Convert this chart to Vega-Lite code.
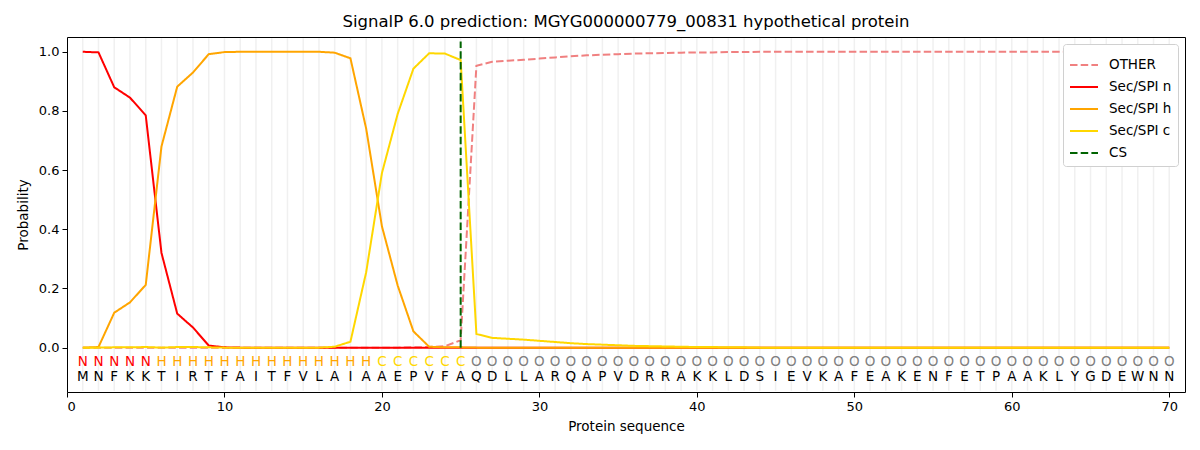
{
  "$schema": "https://vega.github.io/schema/vega-lite/v6.json",
  "autosize": "none",
  "width": 1118,
  "height": 355,
  "padding": {"left": 67, "top": 37, "right": 15, "bottom": 58},
  "background": "white",
  "title": {
    "text": "SignalP 6.0 prediction: MGYG000000779_00831 hypothetical protein",
    "font": "DejaVu Sans",
    "fontSize": 16.5,
    "fontWeight": "normal",
    "color": "black",
    "offset": 7
  },
  "datasets": {
    "seq": [
      {"pos": 1, "aa": "M", "label": "N", "other": 0.0, "n": 1.0, "h": 0.0, "c": 0.0},
      {"pos": 2, "aa": "N", "label": "N", "other": 0.0, "n": 0.998, "h": 0.002, "c": 0.0},
      {"pos": 3, "aa": "F", "label": "N", "other": 0.0, "n": 0.88, "h": 0.118, "c": 0.001},
      {"pos": 4, "aa": "K", "label": "N", "other": 0.0, "n": 0.845, "h": 0.153, "c": 0.001},
      {"pos": 5, "aa": "K", "label": "N", "other": 0.0, "n": 0.785, "h": 0.212, "c": 0.002},
      {"pos": 6, "aa": "T", "label": "H", "other": 0.0, "n": 0.32, "h": 0.68, "c": 0.0},
      {"pos": 7, "aa": "I", "label": "H", "other": 0.0, "n": 0.115, "h": 0.882, "c": 0.002},
      {"pos": 8, "aa": "R", "label": "H", "other": 0.0, "n": 0.068, "h": 0.93, "c": 0.002},
      {"pos": 9, "aa": "T", "label": "H", "other": 0.0, "n": 0.007, "h": 0.992, "c": 0.001},
      {"pos": 10, "aa": "F", "label": "H", "other": 0.0, "n": 0.001, "h": 0.999, "c": 0.0},
      {"pos": 11, "aa": "A", "label": "H", "other": 0.0, "n": 0.0, "h": 1.0, "c": 0.0},
      {"pos": 12, "aa": "I", "label": "H", "other": 0.0, "n": 0.0, "h": 1.0, "c": 0.0},
      {"pos": 13, "aa": "T", "label": "H", "other": 0.0, "n": 0.0, "h": 1.0, "c": 0.0},
      {"pos": 14, "aa": "F", "label": "H", "other": 0.0, "n": 0.0, "h": 1.0, "c": 0.0},
      {"pos": 15, "aa": "V", "label": "H", "other": 0.0, "n": 0.0, "h": 1.0, "c": 0.0},
      {"pos": 16, "aa": "L", "label": "H", "other": 0.0, "n": 0.0, "h": 1.0, "c": 0.0},
      {"pos": 17, "aa": "A", "label": "H", "other": 0.0, "n": 0.0, "h": 0.997, "c": 0.003},
      {"pos": 18, "aa": "I", "label": "H", "other": 0.0, "n": 0.0, "h": 0.978, "c": 0.02},
      {"pos": 19, "aa": "A", "label": "H", "other": 0.0, "n": 0.0, "h": 0.74, "c": 0.255},
      {"pos": 20, "aa": "A", "label": "C", "other": 0.0, "n": 0.0, "h": 0.41, "c": 0.59},
      {"pos": 21, "aa": "E", "label": "C", "other": 0.0, "n": 0.0, "h": 0.21, "c": 0.79},
      {"pos": 22, "aa": "P", "label": "C", "other": 0.001, "n": 0.0, "h": 0.055, "c": 0.943},
      {"pos": 23, "aa": "V", "label": "C", "other": 0.002, "n": 0.0, "h": 0.003, "c": 0.995},
      {"pos": 24, "aa": "F", "label": "C", "other": 0.005, "n": 0.0, "h": 0.001, "c": 0.994},
      {"pos": 25, "aa": "A", "label": "C", "other": 0.025, "n": 0.0, "h": 0.001, "c": 0.972},
      {"pos": 26, "aa": "Q", "label": "O", "other": 0.953, "n": 0.0, "h": 0.0, "c": 0.046},
      {"pos": 27, "aa": "D", "label": "O", "other": 0.966, "n": 0.0, "h": 0.0, "c": 0.033},
      {"pos": 28, "aa": "L", "label": "O", "other": 0.97, "n": 0.0, "h": 0.0, "c": 0.03},
      {"pos": 29, "aa": "L", "label": "O", "other": 0.973, "n": 0.0, "h": 0.0, "c": 0.027},
      {"pos": 30, "aa": "A", "label": "O", "other": 0.977, "n": 0.0, "h": 0.0, "c": 0.023},
      {"pos": 31, "aa": "R", "label": "O", "other": 0.981, "n": 0.0, "h": 0.0, "c": 0.019},
      {"pos": 32, "aa": "Q", "label": "O", "other": 0.985, "n": 0.0, "h": 0.0, "c": 0.015},
      {"pos": 33, "aa": "A", "label": "O", "other": 0.988, "n": 0.0, "h": 0.0, "c": 0.012},
      {"pos": 34, "aa": "P", "label": "O", "other": 0.99, "n": 0.0, "h": 0.0, "c": 0.01},
      {"pos": 35, "aa": "V", "label": "O", "other": 0.992, "n": 0.0, "h": 0.0, "c": 0.008},
      {"pos": 36, "aa": "D", "label": "O", "other": 0.994, "n": 0.0, "h": 0.0, "c": 0.006},
      {"pos": 37, "aa": "R", "label": "O", "other": 0.995, "n": 0.0, "h": 0.0, "c": 0.005},
      {"pos": 38, "aa": "R", "label": "O", "other": 0.996, "n": 0.0, "h": 0.0, "c": 0.004},
      {"pos": 39, "aa": "A", "label": "O", "other": 0.997, "n": 0.0, "h": 0.0, "c": 0.003},
      {"pos": 40, "aa": "K", "label": "O", "other": 0.998, "n": 0.0, "h": 0.0, "c": 0.002},
      {"pos": 41, "aa": "K", "label": "O", "other": 0.998, "n": 0.0, "h": 0.0, "c": 0.002},
      {"pos": 42, "aa": "L", "label": "O", "other": 0.999, "n": 0.0, "h": 0.0, "c": 0.001},
      {"pos": 43, "aa": "D", "label": "O", "other": 0.999, "n": 0.0, "h": 0.0, "c": 0.001},
      {"pos": 44, "aa": "S", "label": "O", "other": 1.0, "n": 0.0, "h": 0.0, "c": 0.0},
      {"pos": 45, "aa": "I", "label": "O", "other": 1.0, "n": 0.0, "h": 0.0, "c": 0.0},
      {"pos": 46, "aa": "E", "label": "O", "other": 1.0, "n": 0.0, "h": 0.0, "c": 0.0},
      {"pos": 47, "aa": "V", "label": "O", "other": 1.0, "n": 0.0, "h": 0.0, "c": 0.0},
      {"pos": 48, "aa": "K", "label": "O", "other": 1.0, "n": 0.0, "h": 0.0, "c": 0.0},
      {"pos": 49, "aa": "A", "label": "O", "other": 1.0, "n": 0.0, "h": 0.0, "c": 0.0},
      {"pos": 50, "aa": "F", "label": "O", "other": 1.0, "n": 0.0, "h": 0.0, "c": 0.0},
      {"pos": 51, "aa": "E", "label": "O", "other": 1.0, "n": 0.0, "h": 0.0, "c": 0.0},
      {"pos": 52, "aa": "A", "label": "O", "other": 1.0, "n": 0.0, "h": 0.0, "c": 0.0},
      {"pos": 53, "aa": "K", "label": "O", "other": 1.0, "n": 0.0, "h": 0.0, "c": 0.0},
      {"pos": 54, "aa": "E", "label": "O", "other": 1.0, "n": 0.0, "h": 0.0, "c": 0.0},
      {"pos": 55, "aa": "N", "label": "O", "other": 1.0, "n": 0.0, "h": 0.0, "c": 0.0},
      {"pos": 56, "aa": "F", "label": "O", "other": 1.0, "n": 0.0, "h": 0.0, "c": 0.0},
      {"pos": 57, "aa": "E", "label": "O", "other": 1.0, "n": 0.0, "h": 0.0, "c": 0.0},
      {"pos": 58, "aa": "T", "label": "O", "other": 1.0, "n": 0.0, "h": 0.0, "c": 0.0},
      {"pos": 59, "aa": "P", "label": "O", "other": 1.0, "n": 0.0, "h": 0.0, "c": 0.0},
      {"pos": 60, "aa": "A", "label": "O", "other": 1.0, "n": 0.0, "h": 0.0, "c": 0.0},
      {"pos": 61, "aa": "A", "label": "O", "other": 1.0, "n": 0.0, "h": 0.0, "c": 0.0},
      {"pos": 62, "aa": "K", "label": "O", "other": 1.0, "n": 0.0, "h": 0.0, "c": 0.0},
      {"pos": 63, "aa": "L", "label": "O", "other": 1.0, "n": 0.0, "h": 0.0, "c": 0.0},
      {"pos": 64, "aa": "Y", "label": "O", "other": 1.0, "n": 0.0, "h": 0.0, "c": 0.0},
      {"pos": 65, "aa": "G", "label": "O", "other": 1.0, "n": 0.0, "h": 0.0, "c": 0.0},
      {"pos": 66, "aa": "D", "label": "O", "other": 1.0, "n": 0.0, "h": 0.0, "c": 0.0},
      {"pos": 67, "aa": "E", "label": "O", "other": 1.0, "n": 0.0, "h": 0.0, "c": 0.0},
      {"pos": 68, "aa": "W", "label": "O", "other": 1.0, "n": 0.0, "h": 0.0, "c": 0.0},
      {"pos": 69, "aa": "N", "label": "O", "other": 1.0, "n": 0.0, "h": 0.0, "c": 0.0},
      {"pos": 70, "aa": "N", "label": "O", "other": 1.0, "n": 0.0, "h": 0.0, "c": 0.0}
    ],
    "cs": [
      {"series": "CS", "pos": 25, "lo": 0, "hi": 1.035}
    ],
    "names": [
      {"key": "other", "series": "OTHER"},
      {"key": "n", "series": "Sec/SPI n"},
      {"key": "h", "series": "Sec/SPI h"},
      {"key": "c", "series": "Sec/SPI c"}
    ]
  },
  "layer": [
    {
      "data": {"name": "seq"},
      "mark": {"type": "rule", "color": "#f0f0f0", "strokeWidth": 1.5},
      "encoding": {
        "x": {
          "field": "pos",
          "type": "quantitative",
          "scale": {"domain": [0, 71], "nice": false, "zero": false},
          "axis": {"values": [0, 10, 20, 30, 40, 50, 60, 70], "title": "Protein sequence", "grid": false}
        },
        "y": {
          "datum": -0.146,
          "type": "quantitative",
          "scale": {"domain": [-0.15, 1.05], "nice": false, "zero": false},
          "axis": {"values": [0, 0.2, 0.4, 0.6, 0.8, 1.0], "format": ".1f", "title": "Probability", "grid": false}
        },
        "y2": {"datum": 1.046}
      }
    },
    {
      "data": {"name": "seq"},
      "transform": [
        {"fold": ["other", "n", "h", "c"], "as": ["key", "prob"]},
        {"lookup": "key", "from": {"data": {"name": "names"}, "key": "key", "fields": ["series"]}}
      ],
      "mark": {"type": "line", "strokeWidth": 2},
      "encoding": {
        "x": {"field": "pos", "type": "quantitative"},
        "y": {"field": "prob", "type": "quantitative"},
        "color": {
          "field": "series",
          "type": "nominal",
          "title": null,
          "scale": {
            "domain": ["OTHER", "Sec/SPI n", "Sec/SPI h", "Sec/SPI c", "CS"],
            "range": ["#f08080", "#ff0000", "#ffa500", "#ffd700", "#006400"]
          }
        },
        "strokeDash": {
          "field": "series",
          "type": "nominal",
          "title": null,
          "scale": {
            "domain": ["OTHER", "Sec/SPI n", "Sec/SPI h", "Sec/SPI c", "CS"],
            "range": [[7.5, 3.2], [1, 0], [1, 0], [1, 0], [7.5, 3.2]]
          }
        }
      }
    },
    {
      "data": {"name": "cs"},
      "mark": {"type": "rule", "strokeWidth": 2},
      "encoding": {
        "x": {"field": "pos", "type": "quantitative"},
        "y": {"field": "lo", "type": "quantitative"},
        "y2": {"field": "hi"},
        "color": {"field": "series", "type": "nominal"},
        "strokeDash": {"field": "series", "type": "nominal"}
      }
    },
    {
      "data": {"name": "seq"},
      "mark": {"type": "text", "font": "DejaVu Sans", "fontSize": 13.5, "baseline": "middle", "align": "center"},
      "encoding": {
        "x": {"field": "pos", "type": "quantitative"},
        "y": {"datum": -0.047},
        "text": {"field": "label"},
        "color": {
          "condition": [
            {"test": "datum.label === 'N'", "value": "#ff0000"},
            {"test": "datum.label === 'H'", "value": "#ffa500"},
            {"test": "datum.label === 'C'", "value": "#ffd700"}
          ],
          "value": "#808080"
        }
      }
    },
    {
      "data": {"name": "seq"},
      "mark": {"type": "text", "font": "DejaVu Sans", "fontSize": 13.5, "baseline": "middle", "align": "center", "color": "black"},
      "encoding": {
        "x": {"field": "pos", "type": "quantitative"},
        "y": {"datum": -0.1},
        "text": {"field": "aa"}
      }
    }
  ],
  "config": {
    "font": "DejaVu Sans",
    "view": {"stroke": "black", "strokeWidth": 1},
    "axis": {
      "domain": false,
      "ticks": true,
      "tickColor": "black",
      "tickSize": 5,
      "labelFont": "DejaVu Sans",
      "labelFontSize": 13,
      "labelColor": "black",
      "titleFont": "DejaVu Sans",
      "titleFontSize": 13.5,
      "titleFontWeight": "normal",
      "titleColor": "black",
      "labelPadding": 3
    },
    "axisX": {"titlePadding": 6},
    "axisY": {"titlePadding": 8},
    "legend": {
      "orient": "top-right",
      "offset": 7,
      "padding": 6,
      "fillColor": "white",
      "strokeColor": "#d0d0d0",
      "cornerRadius": 3,
      "symbolType": "stroke",
      "symbolSize": 784,
      "symbolStrokeWidth": 2,
      "labelFont": "DejaVu Sans",
      "labelFontSize": 13.5,
      "labelColor": "black",
      "rowPadding": -7,
      "labelOffset": 10
    }
  }
}
